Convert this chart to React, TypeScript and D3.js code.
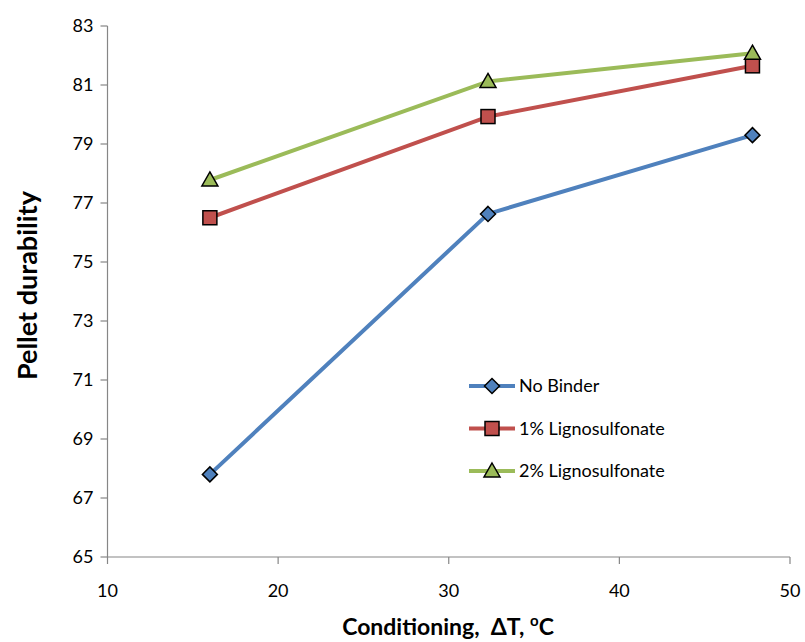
import React from "react";
import * as d3 from "d3";

// 데이터
const conditioningTemp = [16.0, 32.3, 47.8];
const noBinder = [67.8, 76.63, 79.3];
const ligno1 = [76.5, 79.93, 81.65];
const ligno2 = [77.78, 81.12, 82.08];
const yTicks = [65, 67, 69, 71, 73, 75, 77, 79, 81, 83];
const xTicks = [10, 20, 30, 40, 50];

const seriesNames = ["No Binder", "1% Lignosulfonate", "2% Lignosulfonate"];
const seriesColors = ["#4F81BD", "#C0504D", "#9BBB59"];
const seriesMarkers = ["diamond", "square", "triangle"];

const W = 805;
const H = 642;
const FONT = "Lato, 'Open Sans', sans-serif";

function Marker({ kind, x, y, color }: { kind: string; x: number; y: number; color: string }) {
  const common = { fill: color, stroke: "#000", strokeWidth: 1.5, strokeLinejoin: "miter" as const };
  if (kind === "diamond") {
    const r = 7.5;
    return <path d={`M${x},${y - r}L${x + r},${y}L${x},${y + r}L${x - r},${y}Z`} {...common} />;
  }
  if (kind === "square") {
    const s = 14;
    return <rect x={x - s / 2} y={y - s / 2} width={s} height={s} {...common} />;
  }
  const r = 8;
  return <path d={`M${x},${y - r}L${x + r},${y + r * 0.75}L${x - r},${y + r * 0.75}Z`} {...common} />;
}

export default function App() {
  const x = d3.scaleLinear().domain([10, 50]).range([107.5, 790]);
  const y = d3.scaleLinear().domain([65, 83]).range([557, 26]);
  const line = d3
    .line<number>()
    .x((_, i) => x(conditioningTemp[i]))
    .y((d) => y(d));

  const allSeries = [noBinder, ligno1, ligno2];

  return (
    <svg
      width={W}
      height={H}
      style={{ position: "absolute", left: 0, top: 0, background: "#fff" }}
      fontFamily={FONT}
    >
      {/* 축 */}
      <line x1={x(10)} x2={x(10)} y1={y(83)} y2={y(65)} stroke="#868686" strokeWidth={1.2} />
      <line x1={x(10)} x2={x(50)} y1={y(65)} y2={y(65)} stroke="#868686" strokeWidth={1.2} />
      {yTicks.map((t) => (
        <g key={"y" + t}>
          <line x1={x(10) - 7} x2={x(10)} y1={y(t)} y2={y(t)} stroke="#868686" strokeWidth={1.2} />
          <text x={x(10) - 14} y={y(t)} dy="0.35em" textAnchor="end" fontSize={18} fill="#000">
            {t}
          </text>
        </g>
      ))}
      {xTicks.map((t) => (
        <g key={"x" + t}>
          <line x1={x(t)} x2={x(t)} y1={y(65)} y2={y(65) + 7} stroke="#868686" strokeWidth={1.2} />
          <text x={x(t)} y={597} textAnchor="middle" fontSize={18} fill="#000">
            {t}
          </text>
        </g>
      ))}

      {/* 축 제목 */}
      <text
        transform={`translate(37, ${y(74.2)}) rotate(-90)`}
        textAnchor="middle"
        fontSize={27}
        fontWeight="bold"
      >
        Pellet durability
      </text>
      <text x={448} y={635} textAnchor="middle" fontSize={23} fontWeight="bold">
        Conditioning, {"\u00A0"}ΔT, <tspan baselineShift="super" fontSize={15}>o</tspan>C
      </text>

      {/* 시리즈 */}
      {allSeries.map((s, si) => (
        <path key={"l" + si} d={line(s) || ""} fill="none" stroke={seriesColors[si]} strokeWidth={4} />
      ))}
      {allSeries.map((s, si) =>
        s.map((v, i) => (
          <Marker
            key={`m${si}-${i}`}
            kind={seriesMarkers[si]}
            x={x(conditioningTemp[i])}
            y={y(v)}
            color={seriesColors[si]}
          />
        ))
      )}

      {/* 범례 */}
      {seriesNames.map((name, i) => {
        const ly = 386 + i * 42.5;
        return (
          <g key={"lg" + i}>
            <line x1={469} x2={515} y1={ly} y2={ly} stroke={seriesColors[i]} strokeWidth={4} />
            <Marker kind={seriesMarkers[i]} x={492} y={ly} color={seriesColors[i]} />
            <text x={519} y={ly} dy="0.35em" fontSize={18}>
              {name}
            </text>
          </g>
        );
      })}
    </svg>
  );
}
